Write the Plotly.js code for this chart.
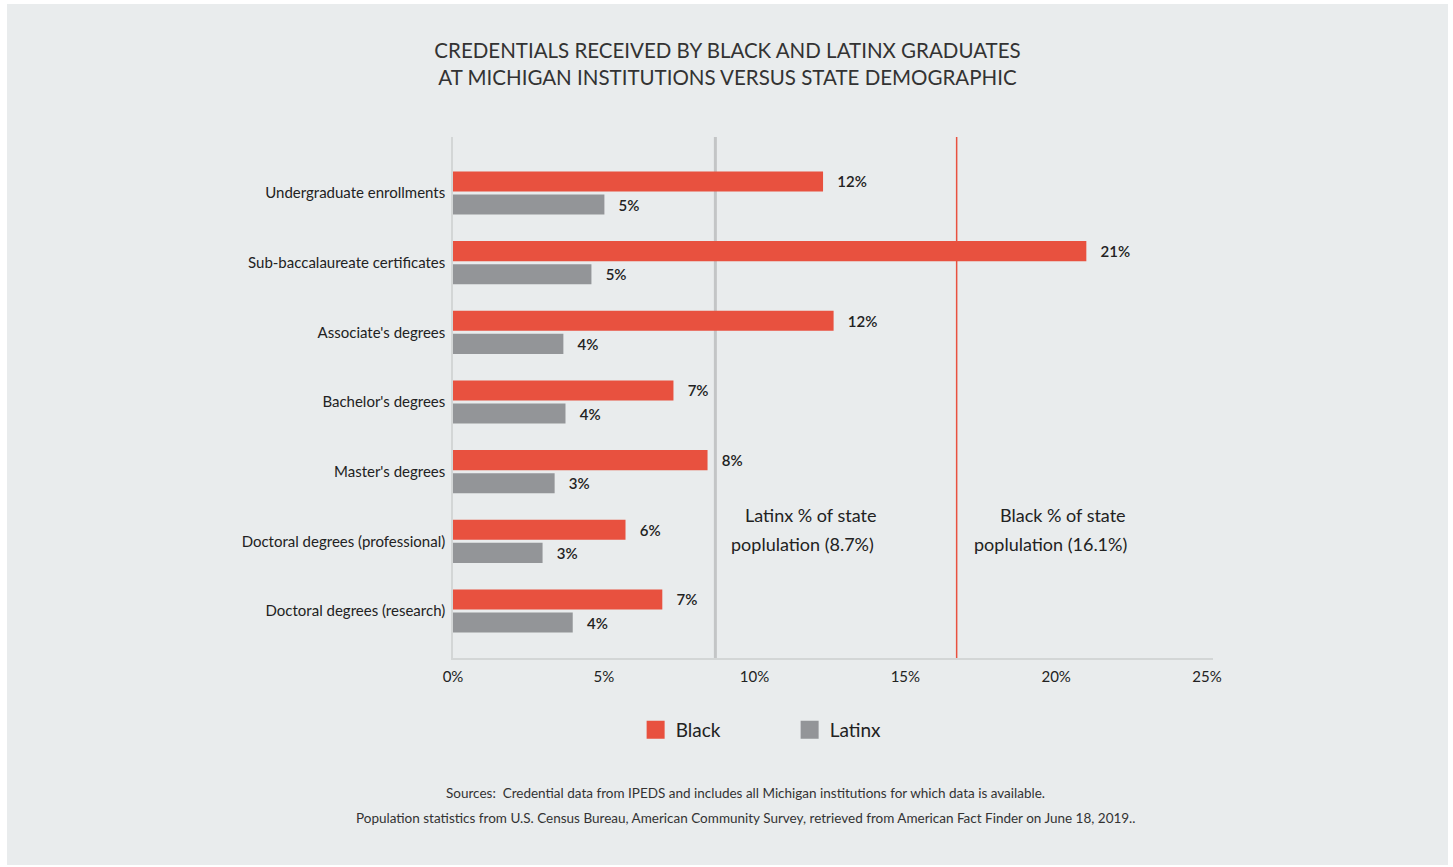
<!DOCTYPE html>
<html>
<head>
<meta charset="utf-8">
<script src="https://cdn.plot.ly/plotly-3.0.1.min.js"></script>
<style>
  html, body { margin: 0; padding: 0; background: #ffffff; }
  #chart { position: absolute; left: 7px; top: 4px; width: 1441px; height: 861px; }
</style>
</head>
<body>
<div id="chart"></div>
<script>
// ---- data ----
const categories = [
  "Undergraduate enrollments",
  "Sub-baccalaureate certificates",
  "Associate's degrees",
  "Bachelor's degrees",
  "Master's degrees",
  "Doctoral degrees (professional)",
  "Doctoral degrees (research)"
];
const blackValues  = [12.27, 21.0, 12.62, 7.31, 8.44, 5.72, 6.94];
const latinxValues = [5.02, 4.59, 3.66, 3.73, 3.37, 2.97, 3.97];
const blackLabels  = ["12%", "21%", "12%", "7%", "8%", "6%", "7%"];
const latinxLabels = ["5%", "5%", "4%", "4%", "3%", "3%", "4%"];
const xTickVals = [0, 5, 10, 15, 20, 25];
const xTickText = ["0%", "5%", "10%", "15%", "20%", "25%"];
const latinxStatePct = 8.7;
const blackStateLinePos = 16.7;   // where the reference draws the line
const latinxNote = ["Latinx % of state", "poplulation (8.7%)"];
const blackNote  = ["Black % of state", "poplulation (16.1%)"];
const seriesNames = ["Black", "Latinx"];

const RED = "#e8513f";
const GRAY = "#939598";
const BG = "#e9eced";
const FONT = "Lato, 'Noto Sans', sans-serif";
const pad = s => "\u00a0\u00a0\u00a0" + s;

const traces = [
  {
    type: "bar", orientation: "h", name: seriesNames[0],
    y: categories, x: blackValues,
    text: blackLabels.map(pad), textposition: "outside", cliponaxis: false,
    textfont: { family: FONT, size: 15, color: "#222", weight: 600 },
    marker: { color: RED }, showlegend: false, hoverinfo: "x+y"
  },
  {
    type: "bar", orientation: "h", name: seriesNames[1],
    y: categories, x: latinxValues,
    text: latinxLabels.map(pad), textposition: "outside", cliponaxis: false,
    textfont: { family: FONT, size: 15, color: "#222", weight: 600 },
    marker: { color: GRAY }, showlegend: false, hoverinfo: "x+y"
  },
  // legend entries with larger square swatches
  {
    type: "scatter", mode: "markers", name: seriesNames[0],
    x: [null], y: [null],
    marker: { symbol: "square", size: 16, color: RED, line: { color: RED, width: 2 } },
    showlegend: true, hoverinfo: "skip"
  },
  {
    type: "scatter", mode: "markers", name: seriesNames[1],
    x: [null], y: [null],
    marker: { symbol: "square", size: 16, color: GRAY, line: { color: GRAY, width: 2 } },
    showlegend: true, hoverinfo: "skip"
  }
];

const annFont = { family: FONT, size: 18, color: "#222" };
const srcFont = { family: FONT, size: 13.5, color: "#333" };

const layout = {
  width: 1441, height: 861,
  paper_bgcolor: BG, plot_bgcolor: BG,
  margin: { l: 446, r: 235, t: 133, b: 207, pad: 0 },
  font: { family: FONT, color: "#222" },
  title: {
    text: "CREDENTIALS RECEIVED BY BLACK AND LATINX GRADUATES<br>AT MICHIGAN INSTITUTIONS VERSUS STATE DEMOGRAPHIC",
    font: { family: FONT, size: 20.5, color: "#333" },
    x: 0.5, xref: "container", xanchor: "center",
    y: 1 - 54 / 861, yref: "container", yanchor: "middle"
  },
  barmode: "group",
  bargap: 0.338,
  bargroupgap: 0.13,
  xaxis: {
    range: [0, 25.2], tickvals: xTickVals, ticktext: xTickText,
    showgrid: false, zeroline: false,
    showline: true, linecolor: "#d3d6d6", linewidth: 1.5,
    ticks: "outside", ticklen: 4, tickcolor: "rgba(0,0,0,0)",
    tickfont: { family: FONT, size: 15, color: "#222" }
  },
  yaxis: {
    type: "category", categoryorder: "array", categoryarray: categories,
    range: [6.675, -0.804],
    showgrid: false, zeroline: false,
    showline: true, linecolor: "#d3d6d6", linewidth: 1.5,
    ticks: "outside", ticklen: 3, tickcolor: "rgba(0,0,0,0)",
    tickfont: { family: FONT, size: 15, color: "#222" }
  },
  legend: {
    orientation: "h", x: 0.2403, xanchor: "left", y: -0.138, yanchor: "middle",
    font: { family: FONT, size: 19, color: "#222" },
    bgcolor: "rgba(0,0,0,0)", itemclick: false, itemdoubleclick: false,
    entrywidth: 109, entrywidthmode: "pixels"
  },
  shapes: [
    { type: "line", xref: "x", yref: "paper", x0: latinxStatePct, x1: latinxStatePct, y0: 0, y1: 1,
      line: { color: "#c3c5c6", width: 3 }, layer: "below" },
    { type: "line", xref: "x", yref: "paper", x0: blackStateLinePos, x1: blackStateLinePos, y0: 0, y1: 1,
      line: { color: RED, width: 1.5 }, layer: "below" }
  ],
  annotations: [
    { xref: "x", yref: "paper", x: 11.85, y: 0.2745, text: latinxNote[0], showarrow: false, xanchor: "center", yanchor: "middle", font: annFont },
    { xref: "x", yref: "paper", x: 11.6, y: 0.2188, text: latinxNote[1], showarrow: false, xanchor: "center", yanchor: "middle", font: annFont },
    { xref: "x", yref: "paper", x: 20.21, y: 0.2745, text: blackNote[0], showarrow: false, xanchor: "center", yanchor: "middle", font: annFont },
    { xref: "x", yref: "paper", x: 19.81, y: 0.2188, text: blackNote[1], showarrow: false, xanchor: "center", yanchor: "middle", font: annFont },
    { xref: "paper", yref: "paper", x: 0.3855, y: -0.259, showarrow: false, xanchor: "center", yanchor: "middle",
      text: "Sources:  Credential data from IPEDS and includes all Michigan institutions for which data is available.", font: srcFont },
    { xref: "paper", yref: "paper", x: 0.3855, y: -0.307, showarrow: false, xanchor: "center", yanchor: "middle",
      text: "Population statistics from U.S. Census Bureau, American Community Survey, retrieved from American Fact Finder on June 18, 2019..", font: srcFont }
  ]
};

Plotly.newPlot("chart", traces, layout, { displayModeBar: false });
</script>
</body>
</html>
